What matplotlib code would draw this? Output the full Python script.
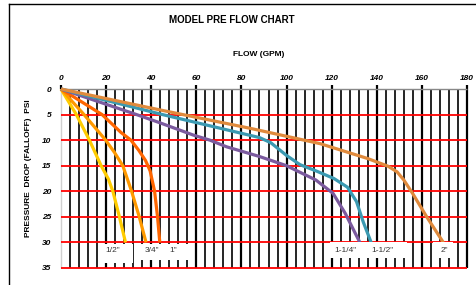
#!/usr/bin/env python3
"""Model PRE flow chart: pressure drop vs flow for each pipe size."""

import matplotlib

matplotlib.use("Agg")
import matplotlib.pyplot as plt
from matplotlib.lines import Line2D

# --- data (GPM, PSI) ---
sizes = ['1/2"', '3/4"', '1"', '1-1/4"', '1-1/2"', '2"']

half_gpm = [0, 6.8, 12.6, 17.8, 21.0, 23.0, 25.9, 28.6]
half_psi = [0, 5, 10, 15, 17.6, 20, 25, 30]

three_q_gpm = [0, 10.2, 19.8, 23.7, 27.4, 31.3, 34.7, 37.7]
three_q_psi = [0, 5, 10, 12.4, 15, 20, 25, 30]

one_gpm = [0, 18.2, 26.6, 31.0, 34.5, 37.5, 39.5, 41.5, 42.8, 43.8]
one_psi = [0, 5, 8.5, 10, 12, 14, 16, 20, 25, 30]

one_q_gpm = [0, 33.5, 43.8, 58.6, 66.0, 73.4, 88.0, 100.0, 113.0, 120.6, 126.0, 132.5]
one_q_psi = [0, 5, 6.6, 9.0, 10, 11.3, 13.2, 15, 17.8, 20.4, 24.3, 30]

one_h_gpm = [0, 45.0, 88.0, 93.0, 100.0, 106.0, 113.0, 121.0, 127.0, 131.0, 134.0, 137.5]
one_h_psi = [0, 5, 9.5, 10.5, 13, 14.8, 16, 17.5, 19.2, 22, 26, 30]

two_gpm = [0, 44.0, 84.0, 115.0, 136.0, 145.0, 149.0, 152.0, 156.0, 162.0, 169.5]
two_psi = [0, 4.1, 7.7, 10.7, 13.6, 15.1, 16.2, 17.8, 20.5, 24.9, 30]

# label boxes: (left gpm, right gpm, top psi, bottom psi, text x)
box_left = [16.4, 33.0, 45.0, 119.2, 133.9, 164.9]
box_right = [31.9, 44.8, 58.5, 133.9, 153.4, 173.8]
box_top = [30.3, 30.3, 30.3, 29.9, 29.9, 29.9]
box_bottom = [34.0, 33.5, 33.5, 33.0, 33.0, 33.0]
label_x = [23.1, 40.3, 49.6, 126.3, 142.6, 169.8]

x_ticks = list(range(0, 181, 20))
y_ticks = list(range(0, 36, 5))

COLORS = ["#ffcc00", "#ff9900", "#ff6600", "#7b5a9e", "#3b9ab2", "#e08a3c"]


def main() -> None:
    plt.rcParams["font.family"] = ["Liberation Sans", "DejaVu Sans"]

    W, H = 477, 285
    fig = plt.figure(figsize=(W / 100, H / 100), dpi=100)
    fig.patch.set_facecolor("white")

    # plot area: x 0..180 -> px 61..467, y 0..35 -> px 89..268
    ax = fig.add_axes([61 / W, 1 - 268 / H, 406 / W, 179 / H])
    ax.set_xlim(0, 180)
    ax.set_ylim(35, 0)
    ax.set_facecolor("white")
    for s in ax.spines.values():
        s.set_visible(False)

    # --- grid ---
    minor = [v for v in range(4, 181, 4) if v % 20]
    major = [v for v in range(20, 181, 20)]
    ax.vlines(minor, 0, 35, color="black", lw=1.2, zorder=1, clip_on=False)
    ax.vlines(major, 0, 35, color="black", lw=1.6, zorder=1, clip_on=False)
    ax.vlines([0], 0, 35, color="#d0d0d0", lw=1.0, zorder=1, clip_on=False)
    ax.hlines(y_ticks[1:], 0, 180, color="#ff0000", lw=1.3, zorder=2, clip_on=False)
    ax.hlines([0], 0, 180, color="#888888", lw=1.0, zorder=2, clip_on=False)

    # --- curves ---
    series = [
        (half_gpm, half_psi),
        (three_q_gpm, three_q_psi),
        (one_gpm, one_psi),
        (one_q_gpm, one_q_psi),
        (one_h_gpm, one_h_psi),
        (two_gpm, two_psi),
    ]
    for (gx, py), c in zip(series, COLORS):
        ax.plot(gx, py, color=c, lw=2.3, solid_joinstyle="round",
                solid_capstyle="butt", zorder=3, clip_on=False)

    # --- label boxes ---
    for i, name in enumerate(sizes):
        ax.fill_between([box_left[i], box_right[i]], box_top[i], box_bottom[i],
                        color="white", lw=0, zorder=4)
        ax.text(label_x[i], 31.6, name, ha="center", va="center",
                fontsize=6, color="#333333", zorder=5)

    # --- ticks ---
    ax.xaxis.tick_top()
    ax.set_xticks(x_ticks)
    ax.set_xticklabels([str(v) for v in x_ticks], fontsize=6,
                       fontweight="bold", fontstyle="italic")
    ax.tick_params(axis="x", length=3, width=1.6, pad=2, color="black")
    ax.set_yticks(y_ticks)
    ax.set_yticklabels([str(v) for v in y_ticks], fontsize=6,
                       fontweight="bold", fontstyle="italic")
    ax.tick_params(axis="y", length=0, pad=7)

    # --- titles ---
    fig.text(232 / W, 1 - 20 / H, "MODEL PRE FLOW CHART", ha="center", va="center",
             fontsize=7, fontweight="bold")
    fig.text(259 / W, 1 - 55 / H, "FLOW (GPM)", ha="center", va="center",
             fontsize=6, fontweight="bold")
    fig.text(29 / W, 1 - 168 / H, "PRESSURE  DROP (FALLOFF)  PSI", ha="center",
             va="center", rotation=90, fontsize=6, fontweight="bold")

    # outer frame (top and left edges only)
    fig.add_artist(Line2D([9 / W, 1], [1 - 4 / H, 1 - 4 / H], color="black", lw=1.0))
    fig.add_artist(Line2D([9 / W, 9 / W], [0, 1 - 4 / H], color="black", lw=1.0))

    fig.savefig("out.png", dpi=100, facecolor="white")
    plt.close(fig)


if __name__ == "__main__":
    main()
